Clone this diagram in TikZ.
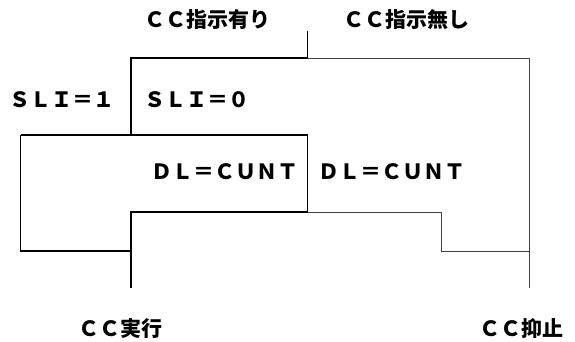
\documentclass[tikz,border=0pt]{standalone}
\usepackage{fontspec}
\setmainfont{Noto Sans CJK JP}
\begin{document}
\begin{tikzpicture}[x=1pt,y=-1pt,
  thickline/.style={line width=1.8pt,black},
  thinline/.style={line width=0.9pt,black!75},
  lbl/.style={inner sep=0pt,font=\fontsize{21}{23}\selectfont\bfseries}]
\useasboundingbox (0,0) rectangle (575,342);
% coordinates
\coordinate (top) at (307.5,31);
\coordinate (c58) at (307.5,58);
\coordinate (b58) at (131,58);
\coordinate (b135) at (131,135);
\coordinate (a135) at (20.5,135);
\coordinate (c135) at (307.5,135);
\coordinate (a251) at (20.5,251);
\coordinate (b251) at (131,251);
\coordinate (c212) at (307.5,212);
\coordinate (b212) at (131,212);
\coordinate (b288) at (131,288);
\coordinate (e58) at (529,58);
\coordinate (e251) at (529,251);
\coordinate (e288) at (529,288);
\coordinate (d212) at (441.5,212);
\coordinate (d251) at (441.5,251);
% thin (right) branch
\draw[thinline] (c58) -- (e58) -- (e288);
\draw[thinline] (c212) -- (d212) -- (d251) -- (e251);
% thick (left) branch
\draw[thickline] (top) -- (c58) -- (b58) -- (b135);
\draw[thickline] (a135) -- (c135);
\draw[thickline] (b251) -- (a251) -- (a135);
\draw[thickline] (c135) -- (c212) -- (b212) -- (b288);
% labels
\node[lbl] (t1) at (207,20) {ＣＣ指示有り};
\node[lbl] (t2) at (406,20) {ＣＣ指示無し};
\node[lbl] (s1) at (62,100) {ＳＬＩ＝１};
\node[lbl,anchor=west] (s0) at (144,100) {ＳＬＩ＝０};
\node[lbl,anchor=east] (dl1) at (299,172) {ＤＬ＝ＣＵＮＴ};
\node[lbl,anchor=west] (dl2) at (318,172) {ＤＬ＝ＣＵＮＴ};
\node[lbl] (ex) at (120,329) {ＣＣ実行};
\node[lbl] (sp) at (521,329) {ＣＣ抑止};
\end{tikzpicture}
\end{document}
